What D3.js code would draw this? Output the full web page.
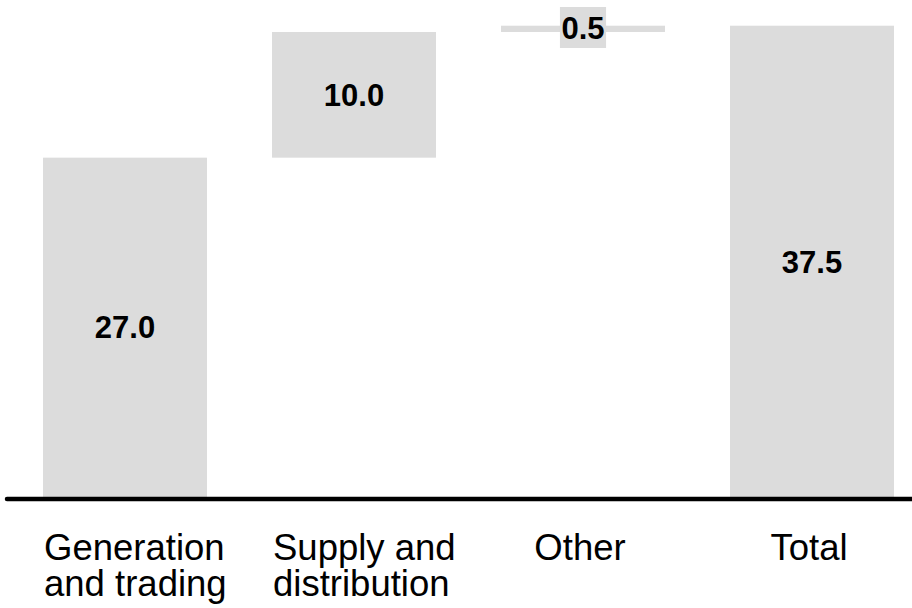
<!DOCTYPE html>
<html>
<head>
<meta charset="utf-8">
<script src="https://cdn.jsdelivr.net/npm/d3@7/dist/d3.min.js"></script>
<style>
  html, body { margin: 0; padding: 0; background: #fff; }
  svg { display: block; }
  text { font-family: "Liberation Sans", Arial, sans-serif; }
</style>
</head>
<body>
<svg id="chart" width="912" height="608"></svg>
<script>
// Waterfall data: segment contributions, with a final total column
const categories = ["Generation and trading", "Supply and distribution", "Other", "Total"];
const categoryLines = [["Generation", "and trading"], ["Supply and", "distribution"], ["Other"], ["Total"]];
const values = [27.0, 10.0, 0.5, 37.5];
const isTotal = [false, false, false, true];

const W = 912, H = 608;
const svg = d3.select("#chart");

const x = d3.scaleBand()
  .domain(categories)
  .range([10.5, 926.5])
  .paddingInner(0.284)
  .paddingOuter(0.142);

const y = d3.scaleLinear()
  .domain([0, 37.5])
  .range([497, 25.7]);

// running start/end for each floating bar
let run = 0;
const bars = categories.map((c, i) => {
  let start, end;
  if (isTotal[i]) { start = 0; end = values[i]; }
  else { start = run; end = run + values[i]; run = end; }
  return { cat: c, value: values[i], start, end, lines: categoryLines[i] };
});

const barColor = "#dcdcdc";

svg.append("g").selectAll("rect")
  .data(bars)
  .join("rect")
  .attr("x", d => x(d.cat))
  .attr("width", x.bandwidth())
  .attr("y", d => y(d.end))
  .attr("height", d => y(d.start) - y(d.end))
  .attr("fill", barColor);

// value labels: inside tall bars, on a grey chip above the thin one
const labels = svg.append("g")
  .attr("font-weight", "bold")
  .attr("font-size", 31)
  .attr("fill", "#000")
  .attr("text-anchor", "middle");

bars.forEach(d => {
  const cx = x(d.cat) + x.bandwidth() / 2;
  const thin = (y(d.start) - y(d.end)) < 40;
  const cy = thin ? 27.5 : (y(d.start) + y(d.end)) / 2;
  const t = labels.append("text")
    .attr("x", cx)
    .attr("y", cy)
    .attr("dy", "0.36em")
    .text(d.value.toFixed(1));
  if (thin) {
    const bb = t.node().getBBox();
    labels.insert("rect", () => t.node())
      .attr("x", bb.x - 1.5)
      .attr("y", 7)
      .attr("width", bb.width + 3)
      .attr("height", 41)
      .attr("fill", barColor);
  }
});

// baseline
svg.append("line")
  .attr("x1", 7).attr("x2", W)
  .attr("y1", 499).attr("y2", 499)
  .attr("stroke", "#000")
  .attr("stroke-width", 4.5)
  .attr("stroke-linecap", "round");

// category labels: wrapped names sit flush with the bar's left edge,
// single-line names are centred under the bar
const cats = svg.append("g")
  .attr("font-size", 36.5)
  .attr("fill", "#000");

bars.forEach(d => {
  const multi = d.lines.length > 1;
  const lx = multi ? x(d.cat) + 1 : x(d.cat) + x.bandwidth() / 2 - 3;
  const t = cats.append("text")
    .attr("text-anchor", multi ? "start" : "middle")
    .attr("x", lx)
    .attr("y", 560);
  d.lines.forEach((ln, k) => {
    t.append("tspan")
      .attr("x", lx)
      .attr("dy", k === 0 ? 0 : 36)
      .text(ln);
  });
});
</script>
</body>
</html>
